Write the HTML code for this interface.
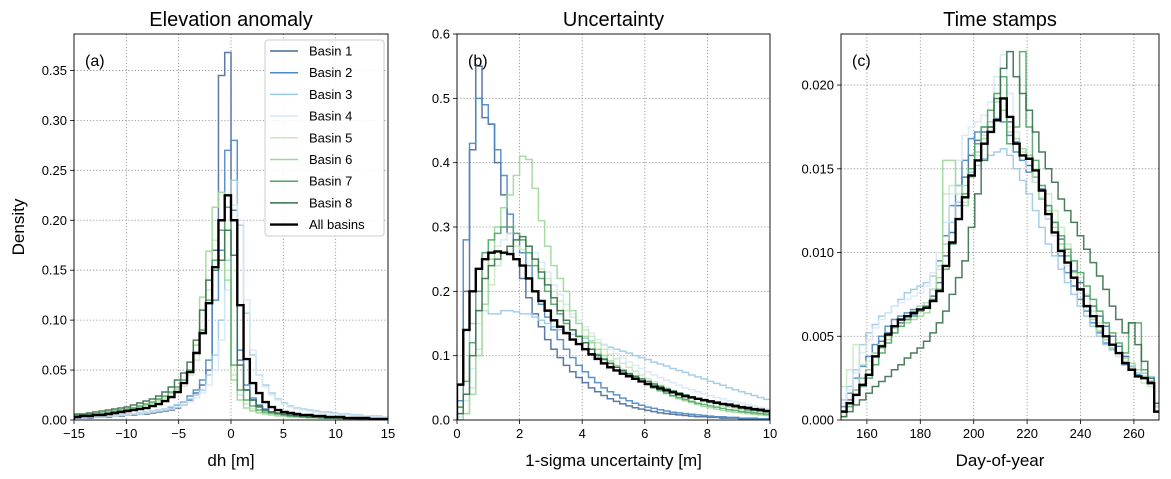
<!DOCTYPE html>
<html><head><meta charset="utf-8"><style>
body{margin:0;background:#fff}
svg{display:block;font-family:"Liberation Sans","DejaVu Sans",sans-serif}
</style></head><body>
<svg id="fig" width="1171" height="479" viewBox="0 0 1171 479"></svg>
<script>
const seriesNames=["Basin 1","Basin 2","Basin 3","Basin 4","Basin 5","Basin 6","Basin 7","Basin 8","All basins"];
const seriesColors=["#4a6a9c","#4a88c4","#9ccae4","#d8e8f6","#c9e8c2","#9fd79a","#4fa565","#36704a","#000000"];
const aTicksX=[-15,-10,-5,0,5,10,15];
const aTicksY=[0,0.05,0.1,0.15,0.2,0.25,0.3,0.35];
const bTicksX=[0,2,4,6,8,10];
const bTicksY=[0,0.1,0.2,0.3,0.4,0.5,0.6];
const cTicksX=[160,180,200,220,240,260];
const cTicksY=[0,0.005,0.01,0.015,0.02];
const aBinStart=-15, aBinWidth=0.6;
const bBinStart=0, bBinWidth=0.2;
const cBinStart=150, cBinWidth=2.4;
const aB1=[.002,.002,.002,.003,.003,.003,.004,.004,.005,.005,.006,.006,.007,.008,.009,.010,.012,.015,.020,.027,.035,.05,.17,.345,.368,.21,.06,.03,.02,.013,.01,.008,.006,.005,.004,.004,.003,.003,.003,.002,.002,.002,.002,.002,.001,.001,.001,.001,.001,.001];
const aB2=[.002,.002,.003,.003,.003,.004,.004,.005,.005,.006,.006,.007,.008,.009,.010,.012,.015,.018,.024,.03,.04,.06,.12,.17,.27,.28,.07,.035,.022,.015,.011,.008,.006,.005,.004,.004,.003,.003,.003,.002,.002,.002,.002,.002,.001,.001,.001,.001,.001,.001];
const aB3=[.003,.003,.003,.004,.004,.004,.005,.005,.006,.006,.007,.008,.009,.010,.011,.013,.015,.018,.021,.025,.03,.045,.065,.1,.16,.24,.195,.107,.065,.045,.035,.027,.021,.017,.014,.012,.011,.01,.009,.008,.008,.007,.006,.006,.005,.005,.004,.004,.004,.003];
const aB4=[.002,.002,.003,.003,.003,.004,.004,.005,.005,.006,.006,.007,.008,.009,.010,.011,.013,.015,.018,.022,.027,.035,.05,.08,.13,.215,.2,.12,.07,.045,.033,.025,.02,.016,.013,.011,.01,.009,.008,.007,.006,.006,.005,.005,.004,.004,.004,.003,.003,.003];
const aB5=[.004,.004,.005,.005,.006,.007,.008,.009,.010,.011,.012,.014,.016,.018,.021,.024,.028,.034,.045,.06,.09,.13,.18,.2,.15,.045,.025,.016,.011,.008,.007,.006,.005,.004,.004,.003,.003,.003,.002,.002,.002,.002,.002,.002,.001,.001,.001,.001,.001,.001];
const aB6=[.004,.004,.005,.006,.006,.007,.008,.009,.010,.012,.013,.015,.017,.020,.023,.027,.031,.04,.05,.075,.123,.169,.213,.228,.14,.04,.02,.012,.009,.007,.006,.005,.004,.004,.003,.003,.003,.002,.002,.002,.002,.002,.001,.001,.001,.001,.001,.001,.001,.001];
const aB7=[.005,.005,.006,.006,.007,.008,.009,.010,.011,.012,.014,.016,.018,.021,.024,.028,.033,.04,.05,.068,.09,.12,.16,.19,.213,.055,.03,.02,.014,.01,.008,.007,.006,.005,.004,.004,.003,.003,.003,.002,.002,.002,.002,.002,.001,.001,.001,.001,.001,.001];
const aB8=[.006,.006,.007,.008,.009,.010,.011,.012,.013,.015,.017,.019,.021,.024,.028,.033,.04,.047,.058,.08,.11,.14,.15,.16,.19,.165,.055,.03,.02,.014,.01,.008,.007,.006,.005,.004,.004,.003,.003,.003,.002,.002,.002,.002,.002,.001,.001,.001,.001,.001];
const aAll=[.003,.004,.004,.005,.005,.006,.007,.008,.009,.010,.011,.012,.014,.016,.019,.023,.028,.037,.048,.067,.087,.117,.153,.2,.225,.2,.115,.061,.037,.027,.018,.013,.010,.008,.007,.006,.005,.005,.004,.004,.003,.003,.003,.002,.002,.002,.002,.001,.001,.001];
const bB1=[.02,.2,.42,.55,.47,.46,.40,.35,.29,.25,.22,.19,.165,.145,.125,.11,.097,.085,.075,.066,.058,.05,.044,.038,.033,.029,.025,.022,.019,.017,.015,.013,.011,.01,.009,.008,.007,.006,.005,.005,.004,.004,.003,.003,.003,.002,.002,.002,.001,.001];
const bB2=[.03,.28,.43,.5,.49,.46,.42,.38,.32,.29,.26,.24,.2,.18,.16,.14,.125,.11,.097,.085,.075,.066,.058,.05,.044,.039,.034,.03,.026,.023,.02,.018,.016,.014,.012,.011,.01,.009,.008,.007,.006,.005,.005,.004,.004,.003,.003,.003,.002,.002];
const bB3=[.01,.04,.15,.17,.17,.165,.165,.17,.17,.168,.165,.165,.16,.155,.15,.145,.14,.137,.133,.13,.127,.123,.12,.117,.113,.11,.107,.104,.1,.097,.094,.09,.087,.084,.08,.077,.074,.07,.067,.064,.06,.057,.054,.05,.047,.044,.041,.038,.035,.032];
const bB4=[.005,.03,.08,.15,.2,.25,.27,.28,.29,.29,.28,.27,.26,.245,.23,.21,.195,.18,.165,.155,.145,.135,.125,.118,.11,.103,.097,.09,.085,.08,.075,.07,.066,.062,.058,.054,.05,.047,.044,.041,.038,.035,.033,.03,.028,.026,.024,.022,.02,.018];
const bB5=[0,.01,.05,.11,.17,.21,.24,.26,.27,.27,.265,.26,.25,.235,.22,.2,.185,.17,.16,.15,.14,.13,.12,.11,.102,.095,.088,.082,.076,.07,.064,.059,.054,.05,.046,.042,.038,.035,.032,.029,.026,.024,.022,.02,.018,.016,.015,.013,.012,.011];
const bB6=[0,.01,.04,.1,.18,.25,.3,.33,.35,.38,.41,.405,.36,.31,.27,.24,.22,.2,.17,.15,.13,.12,.11,.1,.092,.085,.078,.072,.066,.06,.055,.05,.045,.041,.037,.033,.03,.027,.024,.021,.019,.017,.015,.013,.012,.011,.01,.009,.008,.007];
const bB7=[.02,.06,.12,.2,.26,.28,.29,.3,.3,.29,.28,.26,.24,.22,.2,.18,.165,.15,.14,.13,.12,.11,.102,.095,.088,.082,.076,.07,.065,.06,.055,.05,.046,.042,.038,.035,.032,.029,.026,.024,.022,.02,.018,.016,.015,.013,.012,.011,.01,.009];
const bB8=[.01,.04,.1,.17,.22,.24,.25,.26,.27,.28,.285,.27,.25,.23,.21,.19,.17,.155,.14,.13,.12,.11,.1,.094,.088,.082,.077,.072,.068,.064,.06,.056,.052,.048,.045,.042,.039,.036,.033,.03,.028,.026,.024,.022,.02,.018,.016,.015,.014,.013];
const bAll=[.055,.14,.2,.235,.25,.26,.262,.26,.258,.25,.24,.22,.2,.185,.17,.155,.145,.135,.125,.118,.11,.102,.095,.088,.082,.077,.072,.068,.064,.06,.056,.052,.049,.046,.043,.04,.037,.035,.033,.031,.029,.027,.025,.024,.022,.02,.019,.017,.016,.014];
const cB1=[.0005,.0012,.0018,.0025,.003,.004,.0047,.0052,.0055,.0058,.006,.0063,.0066,.0068,.0074,.0082,.0098,.0112,.0128,.0145,.0158,.0167,.0172,.0175,.018,.0185,.0178,.0166,.0158,.0152,.0145,.0138,.0128,.0118,.0108,.0098,.0089,.0082,.0074,.0068,.0062,.0056,.005,.0044,.0038,.0032,.0028,.0026,.0023,.0008];
const cB2=[.0008,.0016,.0025,.0032,.0038,.0045,.005,.0056,.006,.0062,.0064,.0066,.0068,.007,.0078,.0095,.011,.0128,.014,.0155,.0168,.0172,.0175,.0178,.018,.0178,.017,.016,.0155,.0148,.0142,.0132,.012,.011,.0098,.0088,.008,.0072,.0065,.0058,.0052,.0046,.0042,.0038,.0033,.003,.0027,.0025,.0022,.0008];
const cB3=[.0012,.002,.003,.0045,.0052,.0057,.0062,.0064,.0068,.0072,.0076,.0078,.008,.0082,.0086,.0092,.0105,.0118,.013,.014,.0148,.0152,.0156,.0158,.016,.0162,.0158,.015,.0143,.0135,.0125,.0115,.0105,.0098,.009,.0082,.0075,.0068,.0062,.0056,.005,.0045,.0042,.0038,.0035,.0032,.003,.0028,.0026,.001];
const cB4=[.001,.0018,.0028,.004,.0048,.0055,.006,.0064,.0068,.007,.0072,.0074,.0076,.008,.0088,.01,.0118,.0135,.0155,.017,.0175,.0178,.0182,.019,.0205,.0218,.0195,.0172,.016,.015,.0142,.0133,.012,.011,.01,.0092,.0084,.0076,.0068,.006,.0054,.0048,.0043,.0038,.0034,.0031,.0028,.0026,.0024,.0008];
const cB5=[.002,.003,.0045,.0033,.0035,.004,.0045,.005,.0055,.006,.0062,.0065,.0068,.007,.0078,.009,.0135,.014,.0135,.013,.0145,.0158,.017,.0178,.0195,.0185,.0175,.0165,.016,.0158,.015,.014,.0135,.0125,.0115,.0105,.0095,.0085,.0075,.0065,.0058,.005,.0045,.004,.0035,.003,.0026,.0022,.002,.0005];
const cB6=[.0005,.001,.0018,.0025,.003,.0038,.0043,.0048,.0052,.0056,.0058,.006,.0062,.0064,.0072,.0085,.0155,.0155,.014,.0128,.0145,.016,.0168,.0175,.019,.0185,.0172,.0168,.0162,.0158,.0145,.0132,.0125,.0115,.0105,.0098,.0088,.0078,.0068,.006,.0053,.0048,.0043,.004,.0037,.0034,.003,.0026,.0022,.0005];
const cB7=[.0002,.0008,.0015,.002,.0025,.0033,.004,.0046,.0052,.0056,.006,.0062,.0065,.0068,.0072,.0078,.009,.0105,.012,.0135,.015,.0165,.0175,.0185,.0195,.0205,.0165,.0175,.022,.0175,.0155,.014,.0128,.0118,.011,.0102,.0095,.0088,.008,.0072,.0065,.0058,.0052,.0046,.004,.0058,.0058,.003,.0022,.0005];
const cB8=[.0002,.0005,.0009,.0012,.0016,.002,.0023,.0026,.003,.0033,.0037,.004,.0043,.0047,.0052,.0058,.0065,.0075,.0085,.0095,.0115,.0135,.0155,.0175,.0192,.021,.022,.0205,.0195,.0185,.0172,.016,.015,.0142,.0132,.0125,.0118,.011,.0102,.0094,.0086,.0078,.0068,.006,.0052,.0058,.0045,.0035,.0025,.001];
const cAll=[.0005,.001,.0015,.0021,.0027,.0038,.0044,.0051,.0056,.006,.0062,.0064,.0066,.0067,.0071,.0077,.0092,.0106,.012,.0133,.0146,.0155,.0165,.0172,.0179,.0192,.0181,.0165,.0158,.0156,.0149,.0137,.0123,.0112,.0101,.0094,.0085,.0078,.0068,.0062,.0056,.005,.0045,.004,.0034,.003,.0026,.0025,.0022,.0005];

const NS="http://www.w3.org/2000/svg";
const svg=document.getElementById('fig');
function mk(tag,attrs,parent){const e=document.createElementNS(NS,tag);for(const k in attrs)e.setAttribute(k,attrs[k]);(parent||svg).appendChild(e);return e;}

const panels=[
 {id:'a',L:74,R:388,T:34,B:420,x0:-15,x1:15,y0:0,y1:0.3865,tx:aTicksX,ty:aTicksY,fx:v=>v<0?'\u2212'+(-v):''+v,fy:v=>v.toFixed(2),start:aBinStart,w:aBinWidth,data:[aB1,aB2,aB3,aB4,aB5,aB6,aB7,aB8,aAll],title:'Elevation anomaly',xl:'dh [m]',letter:'(a)'},
 {id:'b',L:457,R:770,T:34,B:420,x0:0,x1:10,y0:0,y1:0.6,tx:bTicksX,ty:bTicksY,fx:v=>''+v,fy:v=>v.toFixed(1),start:bBinStart,w:bBinWidth,data:[bB1,bB2,bB3,bB4,bB5,bB6,bB7,bB8,bAll],title:'Uncertainty',xl:'1-sigma uncertainty [m]',letter:'(b)'},
 {id:'c',L:841,R:1159,T:34,B:420,x0:150.3,x1:269.4,y0:0,y1:0.02305,tx:cTicksX,ty:cTicksY,fx:v=>''+v,fy:v=>v.toFixed(3),start:cBinStart,w:cBinWidth,data:[cB1,cB2,cB3,cB4,cB5,cB6,cB7,cB8,cAll],title:'Time stamps',xl:'Day-of-year',letter:'(c)'}
];

panels.forEach(p=>{
 const sx=v=>p.L+(v-p.x0)/(p.x1-p.x0)*(p.R-p.L);
 const sy=v=>p.B-(v-p.y0)/(p.y1-p.y0)*(p.B-p.T);
 const g=mk('g',{});
 
 
 const cp=mk('clipPath',{id:'clip'+p.id},g);
 mk('rect',{x:p.L,y:p.T,width:p.R-p.L,height:p.B-p.T},cp);
 p.tx.forEach(v=>{const x=sx(v);const l=mk('line',{x1:x,x2:x,y1:p.T,y2:p.B,stroke:'#888',"stroke-width":0.8,"stroke-dasharray":"1.2,2"},g);
  
  mk('line',{x1:x,x2:x,y1:p.B,y2:p.B+4,stroke:'#000',"stroke-width":0.8},g);
  const lb=mk('text',{x:x,y:p.B+18,"font-size":13,"text-anchor":"middle",fill:'#000'},g);lb.textContent=p.fx(v);
  });
 p.ty.forEach(v=>{const y=sy(v);const l=mk('line',{x1:p.L,x2:p.R,y1:y,y2:y,stroke:'#888',"stroke-width":0.8,"stroke-dasharray":"1.2,2"},g);
  
  mk('line',{x1:p.L-4,x2:p.L,y1:y,y2:y,stroke:'#000',"stroke-width":0.8},g);
  const lb=mk('text',{x:p.L-7,y:y+4.5,"font-size":13,"text-anchor":"end",fill:'#000'},g);lb.textContent=p.fy(v);
  });
 const sg=mk('g',{"clip-path":'url(#clip'+p.id+')'},g);
 p.data.forEach((arr,i)=>{
  let d='M'+sx(p.start)+','+sy(0);
  arr.forEach((v,k)=>{const xa=sx(p.start+k*p.w),xb=sx(p.start+(k+1)*p.w),y=sy(v);d+=' L'+xa+','+y+' L'+xb+','+y;});
  d+=' L'+sx(p.start+arr.length*p.w)+','+sy(0);
  const path=mk('path',{d:d,fill:'none',stroke:seriesColors[i],"stroke-width":i==8?2.4:1.5,"stroke-opacity":i==8?1:0.9,"stroke-linejoin":"miter"},sg);
  
  
 });
 const fr=mk('rect',{x:p.L,y:p.T,width:p.R-p.L,height:p.B-p.T,fill:'none',stroke:'#000',"stroke-width":0.9},g);
 
 const ti=mk('text',{x:(p.L+p.R)/2,y:26,"font-size":20,"text-anchor":"middle",fill:'#000'},g);ti.textContent=p.title;
 
 const xl=mk('text',{x:(p.L+p.R)/2,y:466,"font-size":17,"text-anchor":"middle",fill:'#000'},g);xl.textContent=p.xl;
 
 const le=mk('text',{x:p.L+11,y:66,"font-size":16,fill:'#000'},g);le.textContent=p.letter;
 
});
const yl=mk('text',{x:24,y:227,"font-size":17,"text-anchor":"middle",transform:'rotate(-90 24 227)',fill:'#000'});
yl.textContent='Density';


const lg=mk('g',{});


mk('rect',{x:265,y:40,width:119,height:196,rx:3,fill:'#fff',"fill-opacity":0.85,stroke:'#ccc',"stroke-width":1},lg);
seriesNames.forEach((n,i)=>{
 const y=51+i*21.7;
 const e=mk('g',{},lg);
 
 
 mk('line',{x1:270,x2:298,y1:y,y2:y,stroke:seriesColors[i],"stroke-width":i==8?2.4:1.5},e);
 const t=mk('text',{x:309,y:y+4.5,"font-size":13,fill:'#000'},e);t.textContent=n;
});
</script>
</body></html>
